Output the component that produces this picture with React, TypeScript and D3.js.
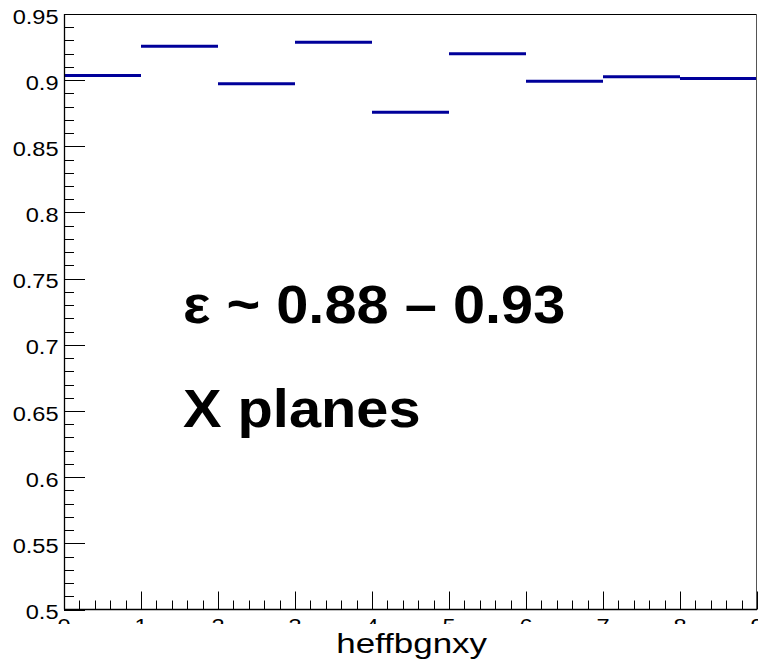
import React from "react";
import * as d3 from "d3";

// Per-bin efficiency of the X planes (bins 0..8)
const binEdges = [0, 1, 2, 3, 4, 5, 6, 7, 8, 9];
const binValues = [0.9035, 0.9256, 0.8972, 0.9287, 0.8757, 0.9199, 0.8992, 0.9025, 0.9012];
const yTickValues = [0.5, 0.55, 0.6, 0.65, 0.7, 0.75, 0.8, 0.85, 0.9, 0.95];
const xTickValues = [0, 1, 2, 3, 4, 5, 6, 7, 8, 9];
const xTitle = "heffbgnxy";
const noteLines = ["ε ~ 0.88 – 0.93", "X planes"];

const W = 758;
const H = 666;
const FONT = "'Liberation Sans', Arial, Helvetica, sans-serif";
const LINE_COLOR = "#00009a";

export default function App() {
  const x = d3.scaleLinear().domain([0, 9]).range([64, 757]);
  const y = d3.scaleLinear().domain([0.5, 0.95]).range([609.5, 14]);

  const x0 = x(0);
  const x1 = x(9);
  const yBottom = y(0.5);
  const yTop = y(0.95);

  // minor ticks: 0.01 steps on y, 0.2 steps on x
  const yMinor = d3.range(50, 96).map((v) => v / 100).filter((v) => Math.abs(v * 20 - Math.round(v * 20)) > 1e-6);
  const xMinor = d3.range(0, 46).map((v) => v / 5).filter((v) => Math.abs(v - Math.round(v)) > 1e-6);

  const bins = binValues.map((v, i) => ({ lo: binEdges[i], hi: binEdges[i + 1], v }));

  const labelScaleX = 1.15;

  return (
    <svg
      width={W}
      height={H}
      viewBox={`0 0 ${W} ${H}`}
      style={{ position: "absolute", left: 0, top: 0, background: "#fff" }}
    >
      <defs>
        <clipPath id="xlabClip">
          <rect x={0} y={0} width={W} height={624} />
        </clipPath>
      </defs>
      <rect x={0} y={0} width={W} height={H} fill="#fff" />

      {/* histogram bins */}
      {bins.map((b, i) => (
        <line
          key={i}
          x1={x(b.lo)}
          x2={x(b.hi)}
          y1={y(b.v)}
          y2={y(b.v)}
          stroke={LINE_COLOR}
          strokeWidth={3}
        />
      ))}

      {/* frame */}
      <line x1={x0} x2={x1} y1={yTop + 0.5} y2={yTop + 0.5} stroke="#000" strokeWidth={1} />
      <line x1={x1 - 0.5} x2={x1 - 0.5} y1={yTop} y2={yBottom} stroke="#555" strokeWidth={1} />
      <line x1={x0} x2={x1} y1={yBottom} y2={yBottom} stroke="#000" strokeWidth={1.3} />
      <line x1={x0 + 0.5} x2={x0 + 0.5} y1={yTop} y2={yBottom} stroke="#000" strokeWidth={1.3} />

      {/* y ticks */}
      {yTickValues.map((v) => (
        <line key={"ym" + v} x1={x0} x2={x0 + 21} y1={Math.round(y(v)) + 0.5} y2={Math.round(y(v)) + 0.5} stroke="#000" strokeWidth={1} />
      ))}
      {yMinor.map((v) => (
        <line key={"yn" + v} x1={x0} x2={x0 + 10} y1={Math.round(y(v)) + 0.5} y2={Math.round(y(v)) + 0.5} stroke="#000" strokeWidth={1} />
      ))}
      {yTickValues.map((v) => (
        <text
          key={"yl" + v}
          transform={`translate(58.5, ${y(v) + 9.5}) scale(${labelScaleX},1)`}
          textAnchor="end"
          fontFamily={FONT}
          fontSize={20.5}
          fill="#000"
        >
          {String(v)}
        </text>
      ))}

      {/* x ticks */}
      {xTickValues.map((v) => (
        <line key={"xm" + v} x1={Math.round(x(v)) + 0.5} x2={Math.round(x(v)) + 0.5} y1={yBottom} y2={yBottom - 18} stroke="#000" strokeWidth={1} />
      ))}
      {xMinor.map((v) => (
        <line key={"xn" + v} x1={Math.round(x(v)) + 0.5} x2={Math.round(x(v)) + 0.5} y1={yBottom} y2={yBottom - 9} stroke="#000" strokeWidth={1} />
      ))}
      <g clipPath="url(#xlabClip)">
        {xTickValues.map((v) => (
          <text
            key={"xl" + v}
            transform={`translate(${x(v)}, 632.5) scale(${labelScaleX},1)`}
            textAnchor="middle"
            fontFamily={FONT}
            fontSize={20.5}
            fill="#000"
          >
            {String(v)}
          </text>
        ))}
      </g>

      {/* axis title */}
      <text
        transform={`translate(487, 653) scale(1.27,1)`}
        textAnchor="end"
        fontFamily={FONT}
        fontSize={27.5}
        fill="#000"
      >
        {xTitle}
      </text>

      {/* annotation */}
      <text transform="translate(183, 323) scale(1.07,1)" fontFamily={FONT} fontSize={54} fontWeight="bold" fill="#000">
        {noteLines[0]}
      </text>
      <text transform="translate(183, 427) scale(1.07,1)" fontFamily={FONT} fontSize={54} fontWeight="bold" fill="#000">
        {noteLines[1]}
      </text>
    </svg>
  );
}
